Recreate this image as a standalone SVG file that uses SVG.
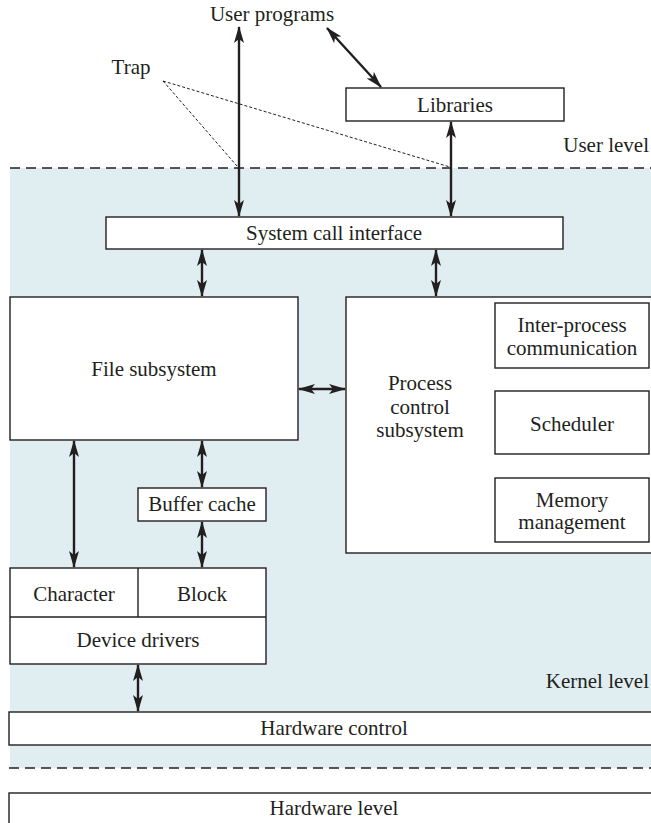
<svg xmlns="http://www.w3.org/2000/svg" width="651" height="823" viewBox="0 0 651 823">
<defs>
<style>
text{font-family:"Liberation Serif","Times New Roman",serif;font-size:21px;fill:#231f20;text-anchor:middle}
.box{fill:#fff;stroke:#231f20;stroke-width:1.4}
.arr{stroke:#231f20;stroke-width:2.4;fill:none;marker-start:url(#ah);marker-end:url(#ah)}
.dash{stroke:#231f20;stroke-width:1.4;stroke-dasharray:10 6;fill:none}
.trap{stroke:#231f20;stroke-width:1;stroke-dasharray:3 2;fill:none}
</style>
<marker id="ah" viewBox="0 0 17 10" refX="16" refY="5" markerWidth="17" markerHeight="10" markerUnits="userSpaceOnUse" orient="auto-start-reverse">
<path d="M0,0 L17,5 L0,10 L4,5 Z" fill="#231f20"/>
</marker>
</defs>
<rect x="0" y="0" width="651" height="823" fill="#fff"/>
<rect id="kernel-bg" x="10" y="168" width="641" height="600" fill="#e1eef1"/>
<line class="dash" x1="10" y1="168" x2="651" y2="168"/>
<line class="dash" x1="9" y1="768" x2="651" y2="768"/>

<g id="user-programs"><text x="272" y="21">User programs</text></g>
<g id="trap"><text x="131" y="74">Trap</text></g>
<g id="user-level"><text x="649" y="152" style="text-anchor:end">User level</text></g>
<g id="kernel-level"><text x="649" y="688" style="text-anchor:end">Kernel level</text></g>

<g id="libraries"><rect class="box" x="346" y="88" width="218" height="33"/><text x="455" y="112">Libraries</text></g>
<g id="syscall"><rect class="box" x="106" y="217" width="457" height="32"/><text x="334" y="240">System call interface</text></g>
<g id="file-subsystem"><rect class="box" x="10" y="297" width="288" height="143"/><text x="154" y="376">File subsystem</text></g>
<g id="process-control"><rect class="box" x="346" y="297" width="314" height="256"/>
<text x="420" y="390">Process</text><text x="420" y="414">control</text><text x="420" y="437">subsystem</text></g>
<g id="ipc"><rect class="box" x="495" y="303" width="154" height="65"/><text x="572" y="332">Inter-process</text><text x="572" y="355">communication</text></g>
<g id="scheduler"><rect class="box" x="495" y="391" width="154" height="63"/><text x="572" y="431">Scheduler</text></g>
<g id="memory"><rect class="box" x="495" y="478" width="154" height="64"/><text x="572" y="507">Memory</text><text x="572" y="529">management</text></g>
<g id="buffer-cache"><rect class="box" x="138" y="488" width="128" height="33"/><text x="202" y="511">Buffer cache</text></g>
<g id="device-drivers"><rect class="box" x="10" y="568" width="256" height="96"/>
<line x1="10" y1="617" x2="266" y2="617" stroke="#231f20" stroke-width="1.4"/>
<line x1="138" y1="568" x2="138" y2="617" stroke="#231f20" stroke-width="1.4"/>
<text x="74" y="601">Character</text><text x="202" y="601">Block</text><text x="138" y="647">Device drivers</text></g>
<g id="hardware-control"><rect class="box" x="9" y="712" width="660" height="33"/><text x="334" y="735">Hardware control</text></g>
<g id="hardware-level"><rect class="box" x="9" y="793" width="660" height="50"/><text x="334" y="815">Hardware level</text></g>

<g id="connectors">
<line class="trap" x1="163" y1="81" x2="237" y2="166"/>
<line class="trap" x1="163" y1="81" x2="450" y2="167"/>
<line class="arr" x1="239" y1="27" x2="239" y2="216"/>
<line class="arr" x1="327" y1="28" x2="381" y2="87"/>
<line class="arr" x1="451" y1="122" x2="451" y2="216"/>
<line class="arr" x1="202" y1="250" x2="202" y2="296"/>
<line class="arr" x1="436" y1="250" x2="436" y2="296"/>
<line class="arr" x1="299" y1="389" x2="345" y2="389"/>
<line class="arr" x1="74" y1="441" x2="74" y2="567"/>
<line class="arr" x1="202" y1="441" x2="202" y2="487"/>
<line class="arr" x1="202" y1="522" x2="202" y2="567"/>
<line class="arr" x1="138" y1="665" x2="138" y2="711"/>
</g>
</svg>
